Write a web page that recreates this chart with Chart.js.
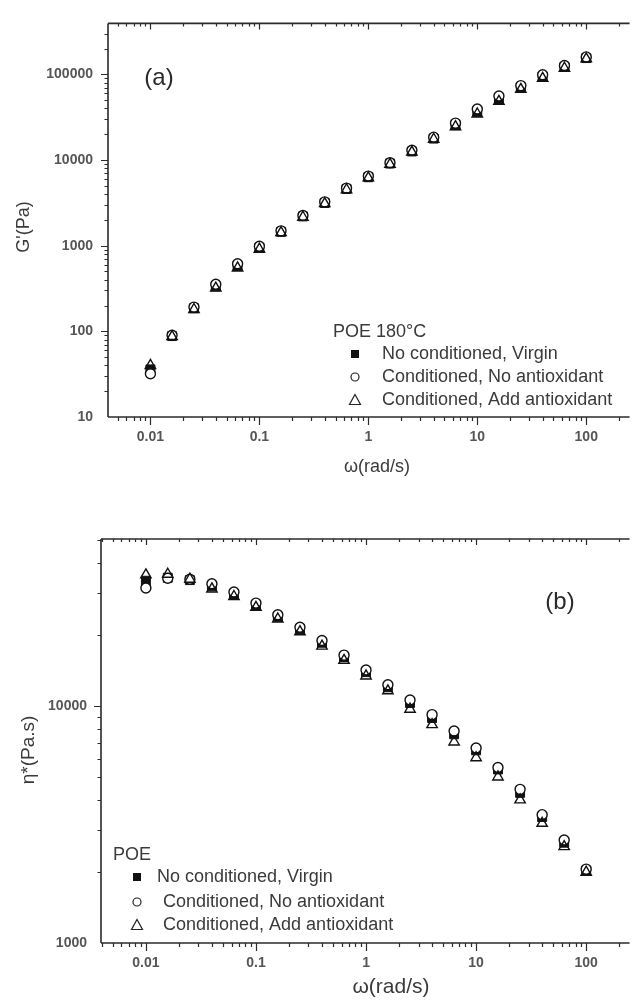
<!DOCTYPE html>
<html><head><meta charset="utf-8">
<script src="https://cdn.jsdelivr.net/npm/chart.js@4.4.1/dist/chart.umd.min.js"></script>
<style>
html,body{margin:0;padding:0;background:#fff;overflow:hidden;}
#wrap{position:relative;width:637px;height:1003px;background:#fff;}
canvas{position:absolute;left:0;}
#c1{top:0;} #c2{top:490px;}
</style></head><body>
<div id="wrap"><canvas id="c1" width="637" height="490"></canvas><canvas id="c2" width="637" height="513"></canvas></div>
<script>
// ---------------- data ----------------
const omega = [0.01, 0.0158, 0.0251, 0.0398, 0.0631, 0.1, 0.158, 0.251, 0.398, 0.631, 1, 1.58, 2.51, 3.98, 6.31, 10, 15.8, 25.1, 39.8, 63.1, 100];

const gVirgin    = [36, 88, 186, 335, 580, 950, 1450, 2200, 3150, 4600, 6300, 9100, 12600, 17800, 25500, 36500, 51000, 70000, 94000, 122000, 155000];
const gNoAntiox  = [32, 90, 192, 355, 615, 985, 1490, 2250, 3250, 4700, 6500, 9300, 13000, 18500, 27000, 39500, 56000, 74000, 99000, 127000, 160000];
const gAddAntiox = [40, 87, 180, 320, 550, 910, 1420, 2150, 3100, 4500, 6200, 8900, 12400, 17500, 24500, 34500, 48500, 67000, 90000, 118000, 152000];

const etaVirgin    = [33800, 34800, 34000, 32000, 29700, 26700, 23800, 21100, 18500, 16100, 13900, 12000, 10300, 8900, 7600, 6500, 5400, 4300, 3400, 2650, 2020];
const etaNoAntiox  = [31500, 34600, 34300, 32800, 30300, 27200, 24300, 21500, 18900, 16400, 14200, 12300, 10600, 9200, 7850, 6650, 5500, 4450, 3480, 2720, 2050];
const etaAddAntiox = [35800, 36000, 34300, 31200, 29000, 26100, 23300, 20600, 17900, 15600, 13400, 11600, 9700, 8350, 7050, 6050, 5020, 4020, 3200, 2550, 1990];

const seriesNames = ['No conditioned, Virgin', 'Conditioned, No antioxidant', 'Conditioned, Add antioxidant'];

const xMajorTicks = [0.01, 0.1, 1, 10, 100];
const xTickLabels = ['0.01', '0.1', '1', '10', '100'];
const gMajorTicks = [10, 100, 1000, 10000, 100000];
const gTickLabels = ['10', '100', '1000', '10000', '100000'];
const etaMajorTicks = [1000, 10000];
const etaTickLabels = ['1000', '10000'];

// ---------------- helpers ----------------
Chart.defaults.font.family = '"Liberation Sans", Arial, sans-serif';
const INK = '#2b2b2b';

function logTicks(min, max) {
  const out = [];
  for (let e = -4; e <= 6; e++) for (let m = 1; m <= 9; m++) {
    const v = Number((m * Math.pow(10, e)).toPrecision(10));
    if (v >= min * 0.9999 && v <= max * 1.0001) out.push(v);
  }
  return out;
}

function makeDatasets(sq, ci, tr) {
  const pts = arr => omega.map((x, i) => ({x: x, y: arr[i]}));
  return [
    {label: seriesNames[0], data: pts(sq), pointStyle: 'rect', pointRadius: 6.3, pointHoverRadius: 6.3,
     backgroundColor: '#111', borderColor: '#111', borderWidth: 1, order: 3},
    {label: seriesNames[1], data: pts(ci), pointStyle: 'circle', pointRadius: 5, pointHoverRadius: 5,
     backgroundColor: '#fff', borderColor: '#111', borderWidth: 1.4, order: 2},
    {label: seriesNames[2], data: pts(tr), pointStyle: 'triangle', pointRadius: 6, pointHoverRadius: 6,
     backgroundColor: 'rgba(255,255,255,0)', borderColor: '#111', borderWidth: 1.4, order: 1}
  ];
}

function xScaleCfg(min, max, axisHeight, pad) {
  return {
    type: 'logarithmic', position: 'bottom', min: min, max: max,
    grid: {display: false, drawTicks: false}, border: {display: false},
    afterBuildTicks: s => { s.ticks = logTicks(min, max).map(v => ({value: v, major: xMajorTicks.includes(v)})); },
    afterFit: s => { s.height = axisHeight; },
    ticks: {autoSkip: false, maxRotation: 0, minRotation: 0, padding: pad, color: '#555',
      font: {size: 14, weight: 'bold'},
      callback: v => { const i = xMajorTicks.indexOf(v); return i >= 0 ? xTickLabels[i] : ''; }}
  };
}
function yScaleCfg(min, max, majors, labels, axisWidth, pad) {
  return {
    type: 'logarithmic', position: 'left', min: min, max: max,
    grid: {display: false, drawTicks: false}, border: {display: false},
    afterBuildTicks: s => { s.ticks = logTicks(min, max).map(v => ({value: v, major: majors.includes(v)})); },
    afterFit: s => { s.width = axisWidth; },
    ticks: {autoSkip: false, padding: pad, color: '#555', font: {size: 14, weight: 'bold'},
      callback: v => { const i = majors.indexOf(v); return i >= 0 ? labels[i] : ''; }}
  };
}

const isPow10 = v => Math.abs(Math.log10(v) - Math.round(Math.log10(v))) < 1e-9;

const axisDeco = {
  id: 'axisDeco',
  afterDraw(chart) {
    const {ctx, chartArea: a} = chart;
    const x = chart.scales.x, y = chart.scales.y;
    ctx.save();
    ctx.strokeStyle = INK;
    ctx.lineWidth = 1.6;
    ctx.beginPath();
    ctx.moveTo(a.left, a.top); ctx.lineTo(a.right, a.top);
    ctx.moveTo(a.left, a.top); ctx.lineTo(a.left, a.bottom);
    ctx.moveTo(a.left, a.bottom); ctx.lineTo(a.right, a.bottom);
    ctx.stroke();
    ctx.lineWidth = 1.2;
    ctx.beginPath();
    x.ticks.forEach(t => {
      const px = Math.round(x.getPixelForValue(t.value)) + 0.5;
      if (px < a.left + 1 || px > a.right) return;
      const M = isPow10(t.value);
      ctx.moveTo(px, a.bottom); ctx.lineTo(px, a.bottom + (M ? 8 : 4));
      ctx.moveTo(px, a.top); ctx.lineTo(px, a.top + (M ? 6 : 3));
    });
    y.ticks.forEach(t => {
      const py = Math.round(y.getPixelForValue(t.value)) + 0.5;
      if (py < a.top + 1 || py > a.bottom) return;
      const M = isPow10(t.value);
      ctx.moveTo(a.left, py); ctx.lineTo(a.left - (M ? 7 : 3.5), py);
    });
    ctx.stroke();

    const o = chart.options.plugins.axisDeco || {};
    (o.texts || []).forEach(t => {
      ctx.save();
      ctx.fillStyle = t.color || '#3a3a3a';
      ctx.font = t.font;
      ctx.textAlign = t.align || 'center';
      ctx.textBaseline = 'middle';
      ctx.translate(t.x, t.y);
      if (t.rotate) ctx.rotate(t.rotate);
      ctx.fillText(t.text, 0, 0);
      ctx.restore();
    });

    const L = o.legend;
    if (L) {
      ctx.fillStyle = '#3a3a3a';
      ctx.font = L.font;
      ctx.textAlign = 'left';
      ctx.textBaseline = 'middle';
      ctx.fillText(L.title, L.titleX, L.titleY);
      chart.data.datasets.forEach((ds, i) => {
        const cy = L.rowsY[i], cx = L.symX;
        ctx.fillStyle = '#3a3a3a';
        ctx.fillText(ds.label, L.textX[i], cy);
        ctx.strokeStyle = '#222'; ctx.lineWidth = 1.2;
        ctx.beginPath();
        if (ds.pointStyle === 'rect') {
          ctx.fillStyle = '#111';
          ctx.fillRect(cx - 4, cy - 4, 8, 8);
        } else if (ds.pointStyle === 'circle') {
          ctx.arc(cx, cy, 4, 0, Math.PI * 2);
          ctx.stroke();
        } else {
          ctx.moveTo(cx, cy - 5.5); ctx.lineTo(cx + 5.5, cy + 4.5); ctx.lineTo(cx - 5.5, cy + 4.5); ctx.closePath();
          ctx.stroke();
        }
      });
    }
    ctx.restore();
  }
};

function makeChart(id, cfg) {
  return new Chart(document.getElementById(id), {
    type: 'scatter',
    data: {datasets: cfg.datasets},
    options: {
      responsive: false, animation: false, devicePixelRatio: 1,
      layout: {padding: {top: cfg.top, left: 0, right: 0, bottom: 0}},
      scales: {x: cfg.x, y: cfg.y},
      plugins: {legend: {display: false}, tooltip: {enabled: false}, axisDeco: cfg.deco}
    },
    plugins: [axisDeco]
  });
}

// ---------------- chart (a) ----------------
makeChart('c1', {
  datasets: makeDatasets(gVirgin, gNoAntiox, gAddAntiox),
  top: 16,
  x: xScaleCfg(0.00408, 250, 490 - 417, 12),
  y: yScaleCfg(10, 394000, gMajorTicks, gTickLabels, 108, 15),
  deco: {
    texts: [
      {text: "G'(Pa)", x: 24, y: 227, font: '18px "Liberation Sans", Arial, sans-serif', rotate: -Math.PI / 2},
      {text: 'ω(rad/s)', x: 377, y: 467, font: '18px "Liberation Sans", Arial, sans-serif'},
      {text: '(a)', x: 159, y: 78, font: '24px "Liberation Sans", Arial, sans-serif', color: '#2a2a2a'}
    ],
    legend: {title: 'POE 180°C', titleX: 333, titleY: 332, symX: 355, textX: [382, 382, 382],
      rowsY: [354, 377, 400], font: '18px "Liberation Sans", Arial, sans-serif'}
  }
});

// ---------------- chart (b) ----------------
makeChart('c2', {
  datasets: makeDatasets(etaVirgin, etaNoAntiox, etaAddAntiox),
  top: 49,
  x: xScaleCfg(0.00391, 248, 513 - 453, 12),
  y: yScaleCfg(1000, 50700, etaMajorTicks, etaTickLabels, 101, 14),
  deco: {
    texts: [
      {text: 'η*(Pa.s)', x: 29, y: 260, font: '19px "Liberation Sans", Arial, sans-serif', rotate: -Math.PI / 2},
      {text: 'ω(rad/s)', x: 391, y: 497, font: '21px "Liberation Sans", Arial, sans-serif'},
      {text: '(b)', x: 560, y: 112, font: '24px "Liberation Sans", Arial, sans-serif', color: '#2a2a2a'}
    ],
    legend: {title: 'POE', titleX: 113, titleY: 365, symX: 137, textX: [157, 163, 163],
      rowsY: [387, 412, 435], font: '18px "Liberation Sans", Arial, sans-serif'}
  }
});
</script>
</body></html>
